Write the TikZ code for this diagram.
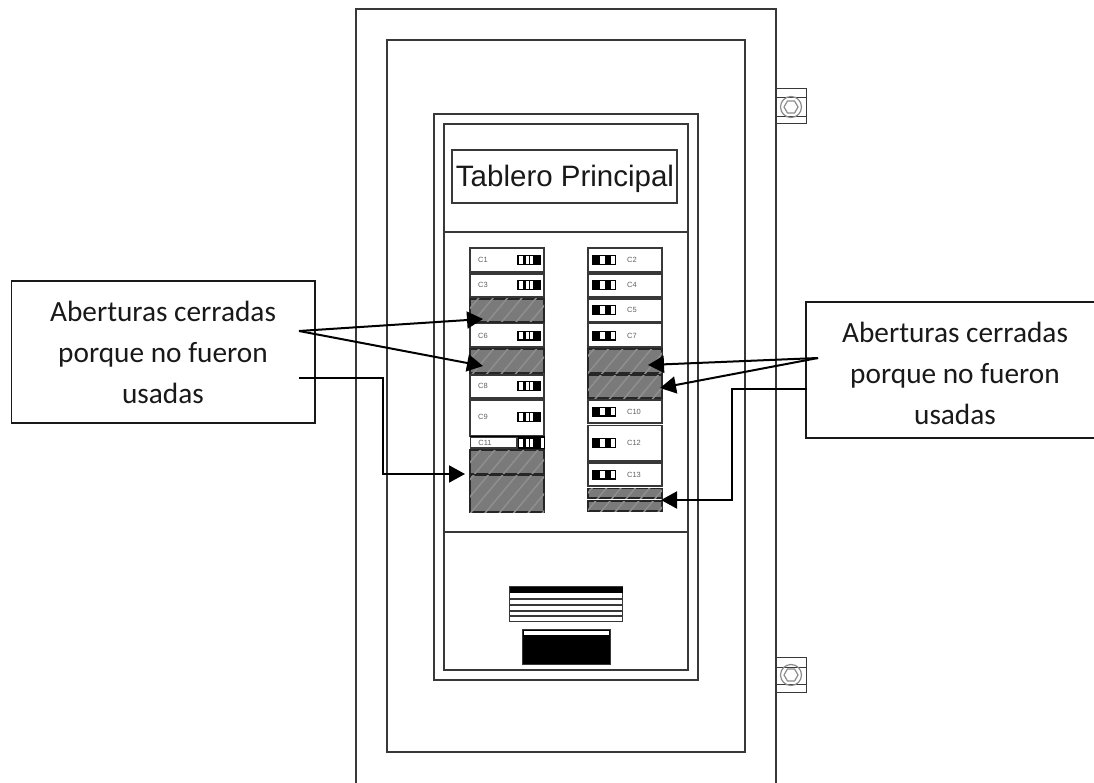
\documentclass[tikz,border=0pt]{standalone}
\usepackage{fontspec}
\setmainfont{Carlito}
\newfontfamily\arialf{Liberation Sans}
\usetikzlibrary{fit,patterns.meta,arrows.meta,shapes.geometric}
\definecolor{ln}{gray}{0.22}
\tikzset{
  frame/.style={draw=ln,line width=1.2pt,inner sep=0pt},
  cellbox/.style={draw=ln,line width=1.3pt,fill=white,inner sep=0pt},
  hatched/.style={draw=black!85,line width=1.4pt,inner sep=0pt,fill=black!52,
    postaction={pattern={Lines[angle=50,distance=11pt,line width=1.5pt]},pattern color=black!44}},
  clabel/.style={font=\arialf\fontsize{7.5}{8}\selectfont,text=black!62,inner sep=0pt},
  note/.style={font=\fontsize{29.3}{41}\selectfont,align=center,inner sep=0pt,text=black!90},
  notebox/.style={draw=black!90,line width=1.5pt,fill=white,inner sep=0pt},
  callout/.style={draw=black,line width=2pt,-{Triangle[length=16pt,width=17pt]}},
  hinge/.style={draw=ln,line width=1pt,fill=white,inner sep=0pt},
  nut/.style={draw=black!45,line width=1.2pt,circle,inner sep=0pt},
  hexnut/.style={draw=black!45,line width=1.2pt,regular polygon,regular polygon sides=6,inner sep=0pt}
}
% box by corners: style, name, x1, y1, x2, y2
\newcommand{\bx}[6]{\node[#1,fit={(#3,#4)(#5,#6)}] (#2) {};}
% left-hand breaker symbol, centred on y
\newcommand{\lsw}[2]{%
  \fill[black] (517,#1-5) rectangle (541,#1+5);
  \fill[white] (518.7,#1-3.6) rectangle (523,#1+3.6);
  \fill[white] (526.3,#1-3.6) rectangle (528.7,#1+3.6);
  \fill[white] (530.3,#1-3.6) rectangle (533,#1+3.6);
  \node[clabel] (#2) at (483,#1) {#2};}
% right-hand breaker symbol, centred on y
\newcommand{\rsw}[3]{%
  \fill[black] (592,#1-5) rectangle (616,#1+5);
  \fill[white] (600,#1-3.6) rectangle (605,#1+3.6);
  \fill[white] (611,#1-3.6) rectangle (615,#1+3.6);
  \node[clabel] (#2) at (#3,#1) {#2};}
\begin{document}
\begin{tikzpicture}[x=1pt,y=-1pt]
\useasboundingbox[fill=white] (0,0) rectangle (1094,783);
% cabinet
\draw[ln,line width=1.2pt] (356,783) -- (356,9) -- (776,9) -- (776,783);
\bx{frame}{door}{387}{40}{745}{752}
\bx{frame}{panel}{434}{114}{698}{680}
\bx{frame}{inner}{444}{124}{688}{670}
\draw[ln,line width=1.2pt] (inner.west |- 0,232) -- (inner.east |- 0,232);
\draw[ln,line width=1.2pt] (inner.west |- 0,532) -- (inner.east |- 0,532);
\node[frame,fit={(452,150)(677,203)}] (title) {};
\node[font=\arialf\fontsize{29.5}{32}\selectfont,text=black!90,inner sep=0pt] (titletext) at (565,178.5) {Tablero Principal};
% hinges
\bx{hinge}{hingeA}{776}{89}{806}{124}
\draw[ln,line width=1pt] (776,98) -- (806,98) (776,117) -- (806,117);
\node[nut,minimum size=21pt] (nutA) at (791,107) {};
\node[hexnut,minimum size=14pt] (hexA) at (791,107) {};
\bx{hinge}{hingeB}{776}{657}{806}{692}
\draw[ln,line width=1pt] (776,667) -- (806,667) (776,684) -- (806,684);
\node[nut,minimum size=21pt] (nutB) at (791,675) {};
\node[hexnut,minimum size=14pt] (hexB) at (791,675) {};
% left column
\bx{cellbox}{a1}{470}{248}{544}{272}
\bx{cellbox}{a2}{470}{274}{544}{297}
\bx{hatched}{a3}{470}{299}{544}{322}
\bx{cellbox}{a4}{470}{323.5}{544}{347}
\bx{hatched}{a5}{470}{349}{544}{373}
\bx{cellbox}{a6}{470}{375}{544}{398}
\bx{cellbox}{a7}{470}{400}{544}{436}
\fill[black] (469.5,436) rectangle (544.5,450);
\bx{cellbox}{a8}{470.6}{437.5}{517}{448}
\fill[white] (541,437.5) rectangle (543.5,448);
\fill[white] (518.7,438.5) rectangle (523,447);
\fill[white] (526.3,438.5) rectangle (528.7,447);
\fill[white] (530.3,438.5) rectangle (533,447);
\bx{hatched}{a9}{470}{450}{544}{474}
\bx{hatched}{a10}{470}{475}{544}{512}
\lsw{260}{C1}
\lsw{285}{C3}
\lsw{335.5}{C6}
\lsw{386}{C8}
\lsw{417}{C9}
\node[clabel] (C11) at (485,443) {C11};
% right column
\bx{cellbox}{b1}{588}{248}{662}{272}
\bx{cellbox}{b2}{588}{274}{662}{297}
\bx{cellbox}{b3}{588}{299}{662}{322}
\bx{cellbox}{b4}{588}{323.5}{662}{347}
\bx{hatched}{b5}{588}{349}{662}{373}
\bx{hatched}{b6}{588}{375}{662}{398}
\bx{cellbox}{b7}{588}{400}{662}{423}
\bx{cellbox}{b8}{588}{425.5}{662}{461}
\bx{cellbox}{b9}{588}{463}{662}{486}
\bx{hatched}{b10}{588}{488.5}{662}{498}
\bx{hatched}{b11}{588}{501}{662}{511}
\rsw{260}{C2}{632}
\rsw{285}{C4}{632}
\rsw{310}{C5}{632}
\rsw{335.5}{C7}{632}
\rsw{411.5}{C10}{634}
\rsw{443}{C12}{634}
\rsw{474.5}{C13}{634}
% bottom hardware
\bx{cellbox}{meter}{509.5}{586.5}{622.5}{621.5}
\fill[black] (509.5,586.5) rectangle (622.5,593);
\foreach \yy in {599,605,611,616}
  \draw[ln,line width=1.6pt] (509.5,\yy) -- (622.5,\yy);
\node[draw=ln,line width=1pt,fill=black,inner sep=0pt,fit={(522.5,629.5)(610,664)}] (block) {};
\fill[white] (524,631) rectangle (609,634.5);
% note boxes
\node[notebox,fit={(11.5,281)(315,423)}] (noteL) {};
\node[note] (noteLtext) at (163,352) {Aberturas cerradas\\porque no fueron\\usadas};
\draw[black!90,line width=1.5pt] (1094,302) -- (806,302) -- (806,438) -- (1094,438);
\node[note] (noteRtext) at (955,373) {Aberturas cerradas\\porque no fueron\\usadas};
% connector anchors
\coordinate (startL) at (299,331);
\coordinate (startLb) at (299,378);
\coordinate (startR) at (818,358);
\coordinate (startRb) at (807,389);
\coordinate (tipa3) at (483,319);
\coordinate (tipa5) at (483,366);
\coordinate (tipa9) at (465,474);
\coordinate (tipb5) at (648,365);
\coordinate (tipb6) at (660,388);
\coordinate (tipb10) at (661,500);
\draw[callout] (startL) -- (tipa3);
\draw[callout] (startL) -- (tipa5);
\draw[callout] (startLb) -- (383,378) -- (383,474) -- (tipa9);
\draw[callout] (startR) -- (tipb5);
\draw[callout] (startR) -- (tipb6);
\draw[callout] (startRb) -- (732,389) -- (732,500) -- (tipb10);
\end{tikzpicture}
\end{document}
